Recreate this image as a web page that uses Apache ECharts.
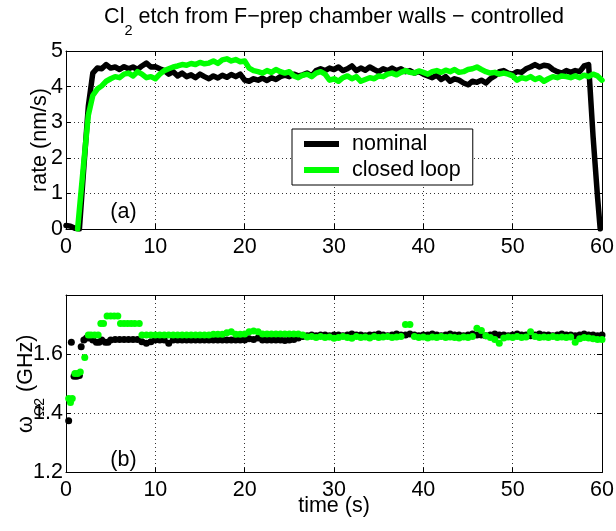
<!DOCTYPE html>
<html>
<head>
<meta charset="utf-8">
<script src="https://cdn.jsdelivr.net/npm/echarts@6/dist/echarts.min.js"></script>
<style>
  html, body { margin: 0; padding: 0; background: #fff; }
  #chart { width: 616px; height: 531px; }
</style>
</head>
<body>
<div id="chart"></div>
<script>
// ---- (a) etch rate, nm/s ----
const nominalTime = [
  0, 0.5, 1, 1.5, 2, 2.5, 3, 3.5, 4, 4.5, 5, 5.5, 6, 6.5, 7, 7.5, 8, 8.5, 9, 9.5,
  10, 10.5, 11, 11.5, 12, 12.5, 13, 13.5, 14, 14.5, 15, 15.5, 16, 16.5, 17, 17.5, 18, 18.5, 19, 19.5,
  20, 20.5, 21, 21.5, 22, 22.5, 23, 23.5, 24, 24.5, 25, 25.5, 26, 26.5, 27, 27.5, 28, 28.5, 29, 29.5,
  30, 30.5, 31, 31.5, 32, 32.5, 33, 33.5, 34, 34.5, 35, 35.5, 36, 36.5, 37, 37.5, 38, 38.5, 39, 39.5,
  40, 40.5, 41, 41.5, 42, 42.5, 43, 43.5, 44, 44.5, 45, 45.5, 46, 46.5, 47, 47.5, 48, 48.5, 49, 49.5,
  50, 50.5, 51, 51.5, 52, 52.5, 53, 53.5, 54, 54.5, 55, 55.5, 56, 56.5, 57, 57.5, 58, 58.5, 59, 59.5,
  59.8
];
const nominalRate = [
  0.10, 0.08, 0.02, 0.00, 1.75, 3.45, 4.38, 4.52, 4.50, 4.62, 4.52, 4.55, 4.48, 4.56, 4.50, 4.55, 4.48, 4.58, 4.66, 4.55,
  4.56, 4.50, 4.45, 4.35, 4.42, 4.30, 4.38, 4.28, 4.33, 4.25, 4.35, 4.28, 4.22, 4.30, 4.24, 4.32, 4.26, 4.34, 4.28, 4.35,
  4.18, 4.15, 4.22, 4.18, 4.24, 4.17, 4.25, 4.20, 4.28, 4.32, 4.28, 4.35, 4.30, 4.33, 4.38, 4.30, 4.45, 4.50, 4.45, 4.52,
  4.48, 4.55, 4.45, 4.50, 4.58, 4.45, 4.52, 4.46, 4.55, 4.48, 4.42, 4.50, 4.45, 4.52, 4.45, 4.50, 4.42, 4.45, 4.38, 4.42,
  4.35, 4.30, 4.25, 4.32, 4.20, 4.28, 4.15, 4.22, 4.18, 4.10, 4.05, 4.15, 4.12, 4.18, 4.10, 4.22, 4.30, 4.42, 4.45, 4.38,
  4.35, 4.42, 4.40, 4.50, 4.55, 4.62, 4.55, 4.60, 4.58, 4.48, 4.42, 4.38, 4.45, 4.40, 4.45, 4.42, 4.58, 4.62, 2.60, 0.90,
  0.00
];
const loopTime = [
  1.3, 1.5, 2, 2.5, 3, 3.5, 4, 4.5, 5, 5.5, 6, 6.5, 7, 7.5, 8, 8.5, 9, 9.5,
  10, 10.5, 11, 11.5, 12, 12.5, 13, 13.5, 14, 14.5, 15, 15.5, 16, 16.5, 17, 17.5, 18, 18.5, 19, 19.5,
  20, 20.5, 21, 21.5, 22, 22.5, 23, 23.5, 24, 24.5, 25, 25.5, 26, 26.5, 27, 27.5, 28, 28.5, 29, 29.5,
  30, 30.5, 31, 31.5, 32, 32.5, 33, 33.5, 34, 34.5, 35, 35.5, 36, 36.5, 37, 37.5, 38, 38.5, 39, 39.5,
  40, 40.5, 41, 41.5, 42, 42.5, 43, 43.5, 44, 44.5, 45, 45.5, 46, 46.5, 47, 47.5, 48, 48.5, 49, 49.5,
  50, 50.5, 51, 51.5, 52, 52.5, 53, 53.5, 54, 54.5, 55, 55.5, 56, 56.5, 57, 57.5, 58, 58.5, 59, 59.5,
  60
];
const loopRate = [
  0.00, 0.55, 1.90, 3.20, 3.75, 3.93, 4.02, 4.15, 4.22, 4.28, 4.25, 4.35, 4.38, 4.30, 4.42, 4.35, 4.25, 4.28,
  4.22, 4.35, 4.45, 4.50, 4.55, 4.58, 4.62, 4.60, 4.65, 4.62, 4.68, 4.64, 4.66, 4.72, 4.65, 4.75, 4.78, 4.72, 4.76, 4.70,
  4.72, 4.52, 4.45, 4.42, 4.38, 4.45, 4.40, 4.48, 4.42, 4.38, 4.42, 4.30, 4.25, 4.32, 4.35, 4.28, 4.38, 4.42, 4.35, 4.18,
  4.22, 4.15, 4.25, 4.30, 4.22, 4.28, 4.15, 4.20, 4.25, 4.22, 4.30, 4.28, 4.35, 4.38, 4.33, 4.40, 4.45, 4.40, 4.38, 4.44,
  4.40, 4.35, 4.42, 4.45, 4.40, 4.46, 4.42, 4.48, 4.40, 4.42, 4.48, 4.50, 4.55, 4.48, 4.42, 4.38, 4.40, 4.35, 4.38, 4.35,
  4.30, 4.18, 4.25, 4.22, 4.28, 4.20, 4.25, 4.15, 4.22, 4.28, 4.25, 4.30, 4.28, 4.25, 4.30, 4.25, 4.32, 4.28, 4.35, 4.30,
  4.18
];

// ---- (b) omega_Omega2, GHz ----
const nominalOmegaTime = [
  0.3, 0.6, 0.9, 1.2, 1.5, 1.7, 2.0, 2.3, 2.6, 3.0, 3.4, 3.7, 4.0, 4.4, 4.7,
  5, 5.5, 6, 6.5, 7, 7.5, 8, 8.5, 9, 9.5,
  10, 10.5, 11, 11.5, 12, 12.5, 13, 13.5, 14, 14.5, 15, 15.5, 16, 16.5, 17, 17.5, 18, 18.5, 19, 19.5,
  20, 20.5, 21, 21.5, 22, 22.5, 23, 23.5, 24, 24.5, 25, 25.5, 26, 26.5, 27, 27.5, 28, 28.5, 29, 29.5,
  30, 30.5, 31, 31.5, 32, 32.5, 33, 33.5, 34, 34.5, 35, 35.5, 36, 36.5, 37, 37.5, 38, 38.5, 39, 39.5,
  40, 40.5, 41, 41.5, 42, 42.5, 43, 43.5, 44, 44.5, 45, 45.5, 46, 46.5, 47, 47.5, 48, 48.5, 49, 49.5,
  50, 50.5, 51, 51.5, 52, 52.5, 53, 53.5, 54, 54.5, 55, 55.5, 56, 56.5, 57, 57.5, 58, 58.5, 59, 59.5,
  60
];
const nominalOmega = [
  1.375, 1.640, 1.525, 1.525, 1.528, 1.625, 1.648, 1.655, 1.655, 1.648, 1.640, 1.640, 1.648, 1.640, 1.640,
  1.648, 1.650, 1.650, 1.650, 1.650, 1.650, 1.650, 1.642, 1.637, 1.642,
  1.648, 1.648, 1.648, 1.637, 1.648, 1.648, 1.648, 1.648, 1.648, 1.648, 1.648, 1.648, 1.648, 1.648, 1.648, 1.648, 1.648, 1.648, 1.648, 1.648,
  1.648, 1.652, 1.650, 1.655, 1.648, 1.648, 1.648, 1.648, 1.648, 1.646, 1.648, 1.650, 1.655, 1.660, 1.662, 1.665, 1.662, 1.665, 1.665, 1.662,
  1.665, 1.665, 1.662, 1.665, 1.668, 1.665, 1.665, 1.662, 1.665, 1.665, 1.668, 1.665, 1.662, 1.665, 1.668, 1.665, 1.665, 1.668, 1.665, 1.662,
  1.665, 1.665, 1.668, 1.665, 1.662, 1.665, 1.668, 1.665, 1.665, 1.662, 1.665, 1.668, 1.665, 1.665, 1.662, 1.665, 1.668, 1.665, 1.665, 1.662,
  1.665, 1.668, 1.665, 1.665, 1.662, 1.665, 1.668, 1.665, 1.665, 1.662, 1.665, 1.668, 1.665, 1.665, 1.662, 1.665, 1.668, 1.665, 1.665, 1.662,
  1.665
];
const loopOmegaTime = [
  0.3, 0.5, 0.7, 1.0, 1.3, 1.6, 2.1, 2.5, 2.8, 3.2, 3.6, 3.9, 4.2, 4.6, 5.0, 5.4, 5.8, 6.1, 6.5, 6.9, 7.3, 7.7, 8.2, 8.5,
  9, 9.5,
  10, 10.5, 11, 11.5, 12, 12.5, 13, 13.5, 14, 14.5, 15, 15.5, 16, 16.5, 17, 17.5, 18, 18.5, 19, 19.5,
  20, 20.5, 21, 21.5, 22, 22.5, 23, 23.5, 24, 24.5, 25, 25.5, 26, 26.5, 27, 27.5, 28, 28.5, 29, 29.5,
  30, 30.5, 31, 31.5, 32, 32.5, 33, 33.5, 34, 34.5, 35, 35.5, 36, 36.5, 37, 37.5, 38, 38.5, 39, 39.5,
  40, 40.5, 41, 41.5, 42, 42.5, 43, 43.5, 44, 44.5, 45, 45.5, 46, 46.5, 47, 47.5, 48, 48.5, 49, 49.5,
  50, 50.5, 51, 51.5, 52, 52.5, 53, 53.5, 54, 54.5, 55, 55.5, 56, 56.5, 57, 57.5, 58, 58.5, 59, 59.5,
  60
];
const loopOmega = [
  1.450, 1.437, 1.450, 1.535, 1.535, 1.540, 1.589, 1.665, 1.665, 1.665, 1.665, 1.704, 1.704, 1.729, 1.729, 1.729, 1.729, 1.704, 1.704, 1.704, 1.704, 1.704, 1.704, 1.665,
  1.665, 1.665,
  1.665, 1.665, 1.665, 1.665, 1.665, 1.665, 1.665, 1.665, 1.665, 1.665, 1.665, 1.665, 1.665, 1.667, 1.667, 1.667, 1.672, 1.676, 1.667, 1.667,
  1.668, 1.676, 1.678, 1.676, 1.668, 1.668, 1.668, 1.668, 1.668, 1.668, 1.668, 1.668, 1.668, 1.665, 1.658, 1.660, 1.656, 1.660, 1.656, 1.658,
  1.654, 1.656, 1.660, 1.656, 1.654, 1.660, 1.656, 1.658, 1.655, 1.660, 1.656, 1.658, 1.660, 1.656, 1.658, 1.660, 1.700, 1.700, 1.660, 1.656,
  1.658, 1.655, 1.658, 1.656, 1.660, 1.656, 1.658, 1.656, 1.655, 1.658, 1.656, 1.660, 1.688, 1.680, 1.662, 1.656, 1.650, 1.637, 1.655, 1.658,
  1.656, 1.660, 1.656, 1.658, 1.676, 1.660, 1.656, 1.658, 1.656, 1.660, 1.656, 1.658, 1.656, 1.658, 1.640, 1.652, 1.656, 1.655, 1.652, 1.650,
  1.650
];

// axis ranges and tick steps
const timeTicks = { min: 0, max: 60, step: 10 };
const rateTicks = { min: 0, max: 5, step: 1 };
const omegaTicks = { min: 1.2, max: 1.8, step: 0.2 };

const FONT = '"Liberation Sans", Arial, Helvetica, sans-serif';
const FS = 21.5;
const GREEN = '#00ff00';

function pairs(ts, vs) { return ts.map((t, i) => [t, vs[i]]); }

function frameAxis(extra) {
  return Object.assign({
    type: 'value',
    nameMoveOverlap: false,
    axisLine: { show: true, onZero: false, lineStyle: { color: '#000', width: 1 } },
    axisTick: { show: true, inside: true, length: 5, lineStyle: { color: '#000', width: 1 } },
    axisLabel: { show: false },
    splitLine: { show: false }
  }, extra);
}
const labelStyle = { color: '#000', fontSize: FS, fontFamily: FONT };
const gridDots = { show: true, lineStyle: { color: '#333', type: [1, 3], width: 1 } };
const plainText = { fontSize: FS, fontFamily: FONT, color: '#000', fontWeight: 'normal' };

const option = {
  animation: false,
  backgroundColor: '#fff',
  textStyle: { fontFamily: FONT, color: '#000' },
  title: [
    {
      text: '{m|Cl}{s|2}{m| etch from F\u2212prep chamber walls \u2212 controlled}',
      left: 334, top: 6, textAlign: 'center', padding: 0,
      textStyle: {
        fontWeight: 'normal',
        rich: {
          m: { fontSize: FS, fontFamily: FONT, color: '#000', fontWeight: 'normal', lineHeight: 22, verticalAlign: 'top' },
          s: { fontSize: 14.5, fontFamily: FONT, color: '#000', fontWeight: 'normal', lineHeight: 14, verticalAlign: 'top', padding: [17, 0, 0, 0] }
        }
      }
    },
    { text: '(a)', left: 123.5, top: 201.5, textAlign: 'center', padding: 0, textStyle: plainText },
    { text: '(b)', left: 123.5, top: 449, textAlign: 'center', padding: 0, textStyle: plainText }
  ],
  legend: {
    orient: 'vertical',
    left: 292, top: 129,
    padding: [4, 12, 4, 12],
    itemGap: 4,
    itemWidth: 35, itemHeight: 6,
    backgroundColor: '#fff',
    borderColor: '#000', borderWidth: 1, borderRadius: 0,
    selectedMode: false,
    itemStyle: { borderWidth: 0 },
    textStyle: { fontSize: FS, fontFamily: FONT, color: '#000', padding: [0, 0, 0, 8] },
    data: [
      { name: 'nominal', icon: 'rect', itemStyle: { color: '#000' } },
      { name: 'closed loop', icon: 'rect', itemStyle: { color: GREEN } }
    ]
  },
  grid: [
    { left: 66, right: 14, top: 51, height: 178, containLabel: false, outerBoundsMode: 'none' },
    { left: 66, right: 14, top: 295, height: 177.5, containLabel: false, outerBoundsMode: 'none' }
  ],
  xAxis: [
    frameAxis({ gridIndex: 0, position: 'bottom', min: timeTicks.min, max: timeTicks.max, interval: timeTicks.step,
      axisLabel: Object.assign({ show: true, margin: 7 }, labelStyle), splitLine: gridDots }),
    frameAxis({ gridIndex: 0, position: 'top', min: timeTicks.min, max: timeTicks.max, interval: timeTicks.step }),
    frameAxis({ gridIndex: 1, position: 'bottom', min: timeTicks.min, max: timeTicks.max, interval: timeTicks.step,
      axisLabel: Object.assign({ show: true, margin: 7 }, labelStyle), splitLine: gridDots,
      name: 'time (s)', nameLocation: 'middle', nameGap: 23,
      nameTextStyle: { fontSize: FS, fontFamily: FONT, color: '#000' } }),
    frameAxis({ gridIndex: 1, position: 'top', min: timeTicks.min, max: timeTicks.max, interval: timeTicks.step })
  ],
  yAxis: [
    frameAxis({ gridIndex: 0, position: 'left', min: rateTicks.min, max: rateTicks.max, interval: rateTicks.step,
      axisLabel: Object.assign({ show: true, margin: 3 }, labelStyle), splitLine: gridDots,
      name: 'rate (nm/s)', nameLocation: 'middle', nameRotate: 90, nameGap: 15,
      nameTextStyle: { fontSize: FS, fontFamily: FONT, color: '#000' } }),
    frameAxis({ gridIndex: 0, position: 'right', min: rateTicks.min, max: rateTicks.max, interval: rateTicks.step }),
    frameAxis({ gridIndex: 1, position: 'left', min: omegaTicks.min, max: omegaTicks.max, interval: omegaTicks.step,
      axisLabel: Object.assign({ show: true, margin: 3,
        formatter: v => (v > omegaTicks.max - 0.01 ? '' : v.toFixed(1)) }, labelStyle),
      splitLine: gridDots,
      name: '{m|\u03c9}{s|\u03a92}{m| (GHz)}', nameLocation: 'middle', nameRotate: 90, nameGap: 29,
      nameTextStyle: {
        rich: {
          m: { fontSize: FS, fontFamily: FONT, color: '#000', lineHeight: 22, verticalAlign: 'top' },
          s: { fontSize: 14, fontFamily: FONT, color: '#000', lineHeight: 14, verticalAlign: 'top', padding: [18, 0, 0, 0] }
        }
      } }),
    frameAxis({ gridIndex: 1, position: 'right', min: omegaTicks.min, max: omegaTicks.max, interval: omegaTicks.step })
  ],
  series: [
    {
      name: 'nominal', type: 'line', xAxisIndex: 0, yAxisIndex: 0,
      data: pairs(nominalTime, nominalRate),
      showSymbol: false, symbol: 'none',
      itemStyle: { color: '#000' },
      lineStyle: { color: '#000', width: 5.5, cap: 'round', join: 'round' }
    },
    {
      name: 'closed loop', type: 'line', xAxisIndex: 0, yAxisIndex: 0,
      data: pairs(loopTime, loopRate),
      showSymbol: false, symbol: 'none',
      itemStyle: { color: GREEN },
      lineStyle: { color: GREEN, width: 5.5, cap: 'round', join: 'round' }
    },
    {
      name: 'nominal', type: 'scatter', xAxisIndex: 2, yAxisIndex: 2,
      data: pairs(nominalOmegaTime, nominalOmega),
      symbol: 'circle', symbolSize: 7,
      itemStyle: { color: '#000', opacity: 1 }
    },
    {
      name: 'closed loop', type: 'scatter', xAxisIndex: 2, yAxisIndex: 2,
      data: pairs(loopOmegaTime, loopOmega),
      symbol: 'circle', symbolSize: 7,
      itemStyle: { color: GREEN, opacity: 1 }
    }
  ]
};

const chart = echarts.init(document.getElementById('chart'), null, { renderer: 'canvas' });
chart.setOption(option);
</script>
</body>
</html>
